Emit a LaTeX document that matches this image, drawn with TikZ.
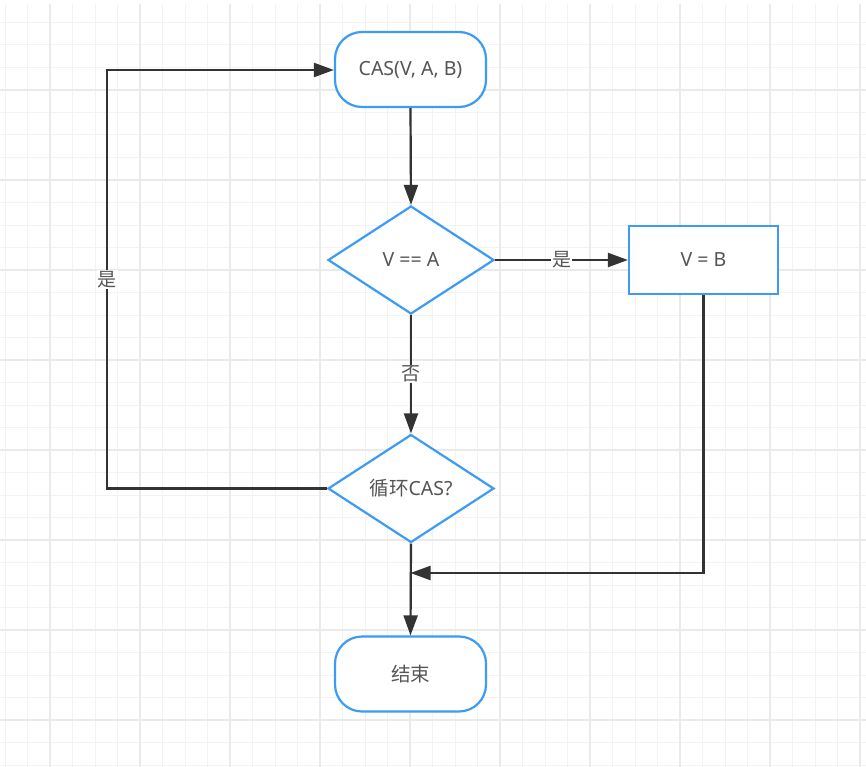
\documentclass[tikz,border=0pt]{standalone}
\usepackage{fontspec}
\setmainfont{Noto Sans}
\newfontfamily\cjk{Noto Sans CJK SC}
\usetikzlibrary{shapes.geometric,arrows.meta}
\definecolor{gridminor}{HTML}{F3F3F3}
\definecolor{gridmajor}{HTML}{EAEAEA}
\definecolor{flowblue}{HTML}{3C9BF5}
\definecolor{flowline}{HTML}{333333}
\definecolor{flowtext}{HTML}{555555}
\tikzset{
  base/.style={draw=flowblue, line width=2.2pt, fill=white, text=flowtext,
    font=\fontsize{19.5}{22}\selectfont, inner sep=0pt},
  terminal/.style={base, rectangle, rounded corners=27pt,
    minimum width=151pt, minimum height=75pt},
  process/.style={base, rectangle, minimum width=149pt, minimum height=68pt},
  decision/.style={base, diamond, minimum width=166pt, minimum height=108pt},
  flow/.style={draw=flowline, line width=2.2pt,
    -{Triangle[length=20pt,width=14pt]}},
  flowlabel/.style={fill=white, text=flowtext, inner sep=1pt,
    font=\cjk\fontsize{19}{21}\selectfont}
}
\begin{document}
\begin{tikzpicture}[x=1pt,y=-1pt]
  % canvas and background grid
  \useasboundingbox (0,0) rectangle (866,767);
  \fill[white] (0,0) rectangle (866,767);
  \foreach \i in {0,...,39} {
    \draw[gridminor, line width=1pt] ({5+22.5*\i},4) -- ({5+22.5*\i},767);
  }
  \foreach \j in {1,...,34} {
    \draw[gridminor, line width=1pt] (0,{22.5*\j}) -- (866,{22.5*\j});
  }
  \foreach \i in {0,...,9} {
    \draw[gridmajor, line width=1.1pt] ({50+90*\i},4) -- ({50+90*\i},767);
  }
  \foreach \j in {1,...,8} {
    \draw[gridmajor, line width=1.1pt] (0,{90*\j}) -- (866,{90*\j});
  }

  % nodes
  \node[terminal] (cas) at (410.5,69.5) {CAS(V, A, B)};
  \node[decision] (eq) at (411,260) {V == A};
  \node[process] (set) at (703.5,260) {V = B};
  \node[decision] (loop) at (411,488.5) {{\cjk 循环}CAS?};
  \node[terminal] (end) at (410.5,674) {\cjk 结束};

  % connectors
  \coordinate (join) at (410.5,573);
  \draw[flow] (cas.south) -- (eq.north);
  \draw[flow] (eq.east) -- node[flowlabel] {是} (set.west);
  \draw[flow] (eq.south) -- node[flowlabel, pos=0.5] {否} (loop.north);
  \draw[flow] (loop.west) -- (107,488.5) -- node[flowlabel, pos=0.5] {是} (107,70) -- (cas.west |- 0,70);
  \draw[flow] (set.south) -- (set.south |- join) -- (join);
  \draw[flow] (loop.south) -- (end.north);
\end{tikzpicture}
\end{document}
